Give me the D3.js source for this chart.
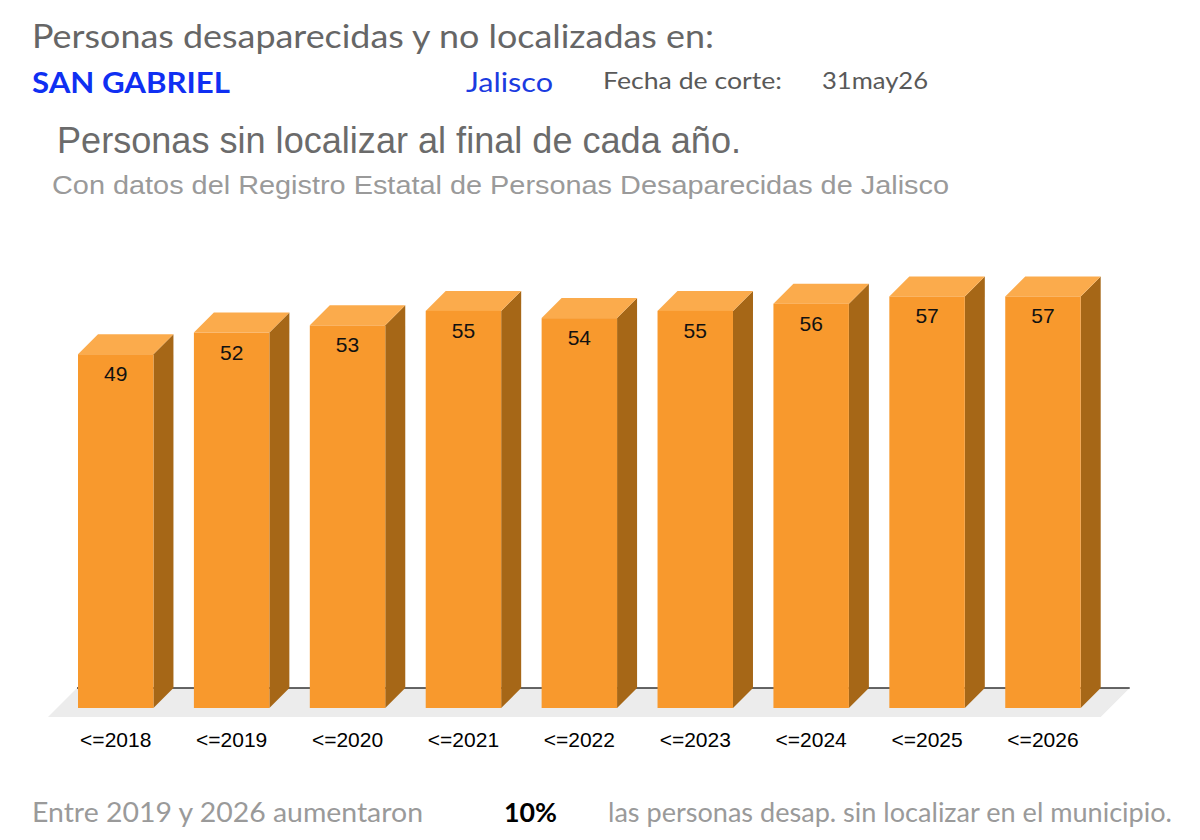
<!DOCTYPE html>
<html>
<head>
<meta charset="utf-8">
<script src="https://cdn.jsdelivr.net/npm/d3@7/dist/d3.min.js"></script>
<style>
  html, body { margin: 0; padding: 0; background: #ffffff; }
  svg { display: block; }
</style>
</head>
<body>
<svg id="chart" width="1200" height="840"></svg>
<script>
// ---- data ----
const categories = ["<=2018", "<=2019", "<=2020", "<=2021", "<=2022", "<=2023", "<=2024", "<=2025", "<=2026"];
const values = [49, 52, 53, 55, 54, 55, 56, 57, 57];
const titleText = "Personas desaparecidas y no localizadas en:";
const municipio = "SAN GABRIEL";
const estado = "Jalisco";
const fechaLabel = "Fecha de corte:";
const fecha = "31may26";
const subtitle = "Personas sin localizar al final de cada año.";
const source = "Con datos del Registro Estatal de Personas Desaparecidas de Jalisco";
const footerLeft = "Entre 2019 y 2026 aumentaron";
const footerPct = "10%";
const footerRight = "las personas desap. sin localizar en el municipio.";

// ---- layout ----
const svg = d3.select("#chart");
const baseY = 708;
const depth = 20;
const floorDepth = 29;

const x = d3.scaleBand().domain(categories).range([78, 1080.7]).paddingInner(0.349).paddingOuter(0);
const y = d3.scaleLinear().domain([0, 60]).range([baseY, baseY - 433.2]);

const sans = "Lato, 'Open Sans', sans-serif";
const arial = "'Liberation Sans', Arial, sans-serif";

function txt(t, xx, yy, opts) {
  const el = svg.append("text").attr("x", xx).attr("y", yy).text(t)
    .attr("font-family", opts.family || sans)
    .attr("font-size", opts.size)
    .attr("font-weight", opts.weight || "normal")
    .attr("fill", opts.fill || "#000");
  if (opts.len) el.attr("textLength", opts.len).attr("lengthAdjust", "spacingAndGlyphs");
  return el;
}

// Header texts
txt(titleText, 32, 48, {size: 32, fill: "#666666", len: 682});
txt(municipio, 32, 93, {size: 29, weight: "bold", fill: "#0f2ff2", len: 198});
txt(estado, 466, 92, {size: 27, fill: "#1b3be0", len: 87});
txt(fechaLabel, 603, 89, {size: 24, fill: "#595959", len: 179});
txt(fecha, 822, 89, {size: 24, fill: "#595959", len: 106});
txt(subtitle, 57, 153, {size: 36, family: arial, fill: "#6b6b6b", len: 684});
txt(source, 52, 194, {size: 26, family: arial, fill: "#9a9a9a", len: 897});

// Floor
const x0 = x(categories[0]);
const xEnd = x(categories[categories.length - 1]) + x.bandwidth();
const floorBackY = baseY - depth;
svg.append("polygon")
  .attr("points", [
    [x0 - 1, floorBackY], [xEnd + 49, floorBackY],
    [xEnd + 49 - floorDepth, floorBackY + floorDepth], [x0 - 1 - floorDepth, floorBackY + floorDepth]
  ].map(p => p.join(",")).join(" "))
  .attr("fill", "#ececec");
svg.append("line")
  .attr("x1", x0 - 1).attr("x2", xEnd + 49)
  .attr("y1", floorBackY).attr("y2", floorBackY)
  .attr("stroke", "#333").attr("stroke-width", 1.5);

// Bars
const bars = svg.append("g").selectAll("g").data(categories).join("g");
bars.append("polygon") // side
  .attr("points", (c, i) => {
    const xr = x(c) + x.bandwidth(), yt = y(values[i]);
    return [[xr, yt], [xr + depth, yt - depth], [xr + depth, baseY - depth], [xr, baseY]].map(p => p.join(",")).join(" ");
  })
  .attr("fill", "#a66717");
bars.append("polygon") // top
  .attr("points", (c, i) => {
    const xl = x(c), xr = xl + x.bandwidth(), yt = y(values[i]);
    return [[xl, yt], [xl + depth, yt - depth], [xr + depth, yt - depth], [xr, yt]].map(p => p.join(",")).join(" ");
  })
  .attr("fill", "#fbab4c");
bars.append("rect") // front
  .attr("x", c => x(c))
  .attr("y", (c, i) => y(values[i]))
  .attr("width", x.bandwidth())
  .attr("height", (c, i) => baseY - y(values[i]))
  .attr("fill", "#f8992d");
bars.append("text")
  .attr("x", c => x(c) + x.bandwidth() / 2)
  .attr("y", (c, i) => y(values[i]) + 27)
  .attr("text-anchor", "middle")
  .attr("font-family", arial).attr("font-size", 21).attr("fill", "#111")
  .text((c, i) => values[i]);

// Category axis labels
const axis = d3.axisBottom(x).tickSize(0).tickPadding(0);
const ax = svg.append("g").attr("transform", `translate(0, ${baseY + 39})`).call(axis)
  .attr("font-family", arial).attr("font-size", 21);
ax.select(".domain").remove();
ax.selectAll("text")
  .attr("dy", 0)
  .attr("font-family", arial).attr("font-size", 21).attr("fill", "#000");

// Footer
txt(footerLeft, 32, 822, {size: 27, fill: "#9a9a9a", len: 391});
txt(footerPct, 504, 822, {size: 27, weight: "bold", fill: "#000", len: 53});
txt(footerRight, 608, 822, {size: 27, fill: "#9a9a9a", len: 564});
</script>
</body>
</html>
